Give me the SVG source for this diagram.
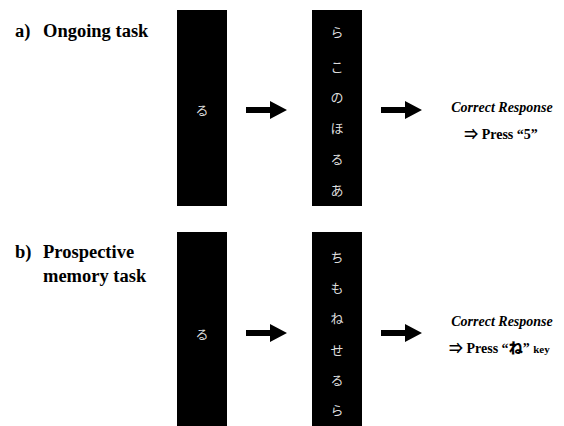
<svg xmlns="http://www.w3.org/2000/svg" width="564" height="426" viewBox="0 0 564 426">
<style>
.lbl{font-family:'Liberation Serif','Noto Sans CJK JP',serif;font-weight:bold;font-size:18.5px;fill:#000}
.kana{font-family:'Noto Sans CJK JP',sans-serif;font-size:13px;fill:#ddd;text-anchor:middle}
.resp{font-family:'Liberation Serif','Noto Sans CJK JP',serif;font-weight:bold;font-size:14px;fill:#000}
.jp{font-family:'Noto Sans CJK JP',sans-serif;font-weight:900}
.box{fill:#000}
.arr{fill:#000}
</style>
<defs>
<path id="arrow" class="arr" d="M0,-3 L24,-3 L24,-9 L41,0 L24,9 L24,3 L0,3 Z"/>
</defs>
<g id="label-a"><text class="lbl" x="15" y="37">a)</text><text class="lbl" x="43" y="37">Ongoing task</text></g>
<g id="label-b"><text class="lbl" x="15" y="258">b)</text><text class="lbl" x="43" y="258">Prospective</text><text class="lbl" x="43" y="282">memory task</text></g>
<g id="a-fix"><rect class="box" x="177" y="10" width="50" height="196"/><text class="kana" x="202" y="115">る</text></g>
<g id="a-list"><rect class="box" x="312" y="10" width="50" height="196"/>
<text class="kana" x="337" y="37">ら</text><text class="kana" x="337" y="72">こ</text><text class="kana" x="337" y="102">の</text><text class="kana" x="337" y="133">ほ</text><text class="kana" x="337" y="164">る</text><text class="kana" x="337" y="195">あ</text></g>
<g id="a-resp"><text class="resp" x="502" y="112" text-anchor="middle" font-style="italic">Correct Response</text><text class="resp" x="501" y="139" text-anchor="middle">⇒ Press “5”</text></g>
<g id="b-fix"><rect class="box" x="177" y="232" width="50" height="194"/><text class="kana" x="202" y="339">る</text></g>
<g id="b-list"><rect class="box" x="312" y="232" width="50" height="194"/>
<text class="kana" x="337" y="262">ち</text><text class="kana" x="337" y="293">も</text><text class="kana" x="337" y="323">ね</text><text class="kana" x="337" y="355">せ</text><text class="kana" x="337" y="385">る</text><text class="kana" x="337" y="415">ら</text></g>
<g id="b-resp"><text class="resp" x="502" y="326" text-anchor="middle" font-style="italic">Correct Response</text><text class="resp" x="449" y="353">⇒ Press “<tspan class="jp">ね</tspan>” <tspan font-size="11">key</tspan></text></g>
<g id="connectors">
<use href="#arrow" x="246" y="110"/>
<use href="#arrow" x="381" y="110"/>
<use href="#arrow" x="246" y="333"/>
<use href="#arrow" x="381" y="333"/>
</g>
</svg>
